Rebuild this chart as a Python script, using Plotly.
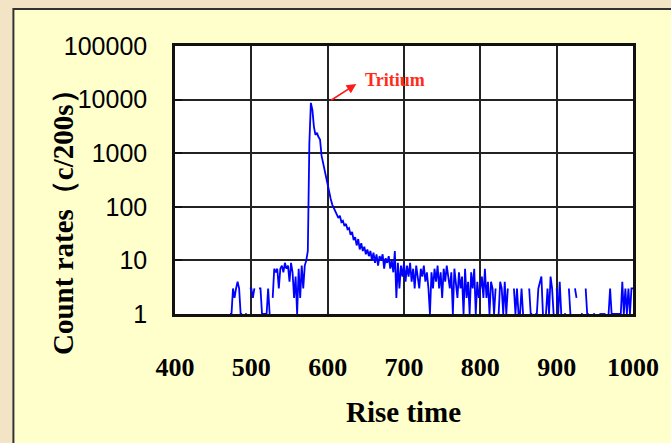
import plotly.graph_objects as go

# Rise-time channels (2-unit bins) and count rates per 200 s; None = no counts
rise_time = list(range(472, 1001, 2))

counts_472_498 = [1, 1, 3, 2, 3, 4, 3, 1, 1, None, 1, 1, None, 3]
counts_500_598 = [
    3, 2, 3, None, None, 3, 3, 1, 1, 1,
    1, 3, 1, None, 2, 7, 6, 7, 3, 7,
    8, 6, 9, 7, 8, 4, 9, 6, 2, 5,
    1, 7, 2, 8, 3, 8, 10, 15, 1500, 8700,
    6400, 3100, 2200, 2400, 2000, 1800, 900, 650, 450, 320,
]
counts_600_698 = [
    250, 175, 140, 110, 95, 80, 72, 62, 68, 52,
    55, 44, 48, 38, 40, 30, 34, 24, 27, 19,
    25, 16, 21, 15, 18, 13, 16, 12, 15, 10,
    14, 9, 13, 8, 12, 10, 13, 7, 11, 9,
    12, 7, 10, 6, 15, 2, 9, 3, 8, 5,
]
counts_700_798 = [
    9, 4, 8, 5, 9, 4, 7, 3, 8, 5,
    3, 7, 5, 8, 4, 6, 3, 1, 6, 3,
    7, 4, 8, 3, 6, 2, 7, 4, 8, 5,
    3, 6, 1, 7, 4, 2, 6, 3, 5, 1,
    7, 2, 4, 1, 6, 3, 7, 1, 4, 2,
]
counts_800_898 = [
    3, 5, 2, 7, 2, 4, 1, 4, 3, 1,
    3, None, 1, 4, 3, 1, 4, 1, 3, None,
    4, None, 3, 1, 3, 1, 1, 3, 1, None,
    1, None, 3, 1, 1, None, 1, 1, 3, 4,
    5, 1, None, 1, 3, 1, 5, 3, 1, None,
]
counts_900_1000 = [
    3, 1, 4, 1, None, 1, 1, None, 3, 1,
    None, None, 3, 2, None, None, 1, 1, None, 3,
    1, 1, None, None, 1, 1, None, None, 1, 1,
    1, 1, 1, None, 1, 3, 1, 1, 1, 1,
    1, 1, 1, 4, 1, 3, 1, 3, 1, 3,
    3,
]
count_rates = (counts_472_498 + counts_500_598 + counts_600_698
               + counts_700_798 + counts_800_898 + counts_900_1000)

x_ticks = [400, 500, 600, 700, 800, 900, 1000]
y_ticks = [1, 10, 100, 1000, 10000, 100000]
y_tick_text = ["1", "10", "100", "1000", "10000", "100000"]

SERIF = "Liberation Serif, Times New Roman, serif"
SANS = "Liberation Sans, Arial, sans-serif"

W, H = 671, 443
L, R, T, B = 175, 34, 46, 129
PW, PH = W - L - R, H - T - B


def px_x(p):
    return (p - L) / PW


def px_y(p):
    return (H - B - p) / PH


fig = go.Figure()
fig.add_trace(go.Scatter(
    x=rise_time, y=count_rates, mode="lines",
    line=dict(color="#0000ff", width=1.8),
    connectgaps=False, showlegend=False,
))

# slide panel behind the chart, then the white plotting area on top of it
fig.add_shape(
    type="rect", xref="paper", yref="paper", layer="below",
    x0=px_x(12), x1=px_x(700), y0=px_y(470), y1=px_y(9),
    fillcolor="#ffffcc", line=dict(color="#333333", width=2),
)
fig.add_shape(
    type="rect", xref="paper", yref="paper", layer="below",
    x0=0, x1=1, y0=0, y1=1,
    fillcolor="#ffffff", line=dict(width=0),
)

fig.update_layout(
    width=W, height=H, autosize=False,
    margin=dict(l=L, r=R, t=T, b=B, pad=0),
    paper_bgcolor="#f4e4c6", plot_bgcolor="#ffffff",
    xaxis=dict(
        range=[400, 1000], tickvals=x_ticks,
        showgrid=True, gridcolor="#222222", gridwidth=1.5,
        showline=True, linecolor="#111111", linewidth=2.5, mirror=True,
        ticks="", zeroline=False, ticklabelstandoff=28,
        tickfont=dict(family=SERIF, size=26, color="#000000", weight="bold"),
    ),
    yaxis=dict(
        type="log", range=[0, 5], tickvals=y_ticks, ticktext=y_tick_text,
        showgrid=True, gridcolor="#222222", gridwidth=1.5,
        showline=True, linecolor="#111111", linewidth=2.5, mirror=True,
        ticks="inside", ticklen=7, tickwidth=2, tickcolor="#111111",
        zeroline=False, ticklabelstandoff=20,
        tickfont=dict(family=SANS, size=25, color="#000000"),
    ),
    annotations=[
        dict(text="Rise time", xref="paper", yref="paper",
             x=px_x(405), y=px_y(412), xanchor="center", yanchor="middle",
             showarrow=False,
             font=dict(family=SERIF, size=29, color="#000000", weight="bold")),
        dict(text="Count rates（c/200s）", xref="paper", yref="paper",
             x=px_x(62), y=px_y(215), xanchor="center", yanchor="middle",
             textangle=-90, showarrow=False,
             font=dict(family=SERIF, size=29, color="#000000", weight="bold")),
        dict(text="Tritium", xref="x", yref="y", x=688, y=4.37,
             xanchor="center", yanchor="middle", showarrow=False,
             font=dict(family=SERIF, size=18, color="#ff2a1a", weight="bold")),
        dict(text="", xref="x", yref="y", x=637.5, y=4.29,
             axref="x", ayref="y", ax=602.5, ay=3.97,
             showarrow=True, arrowhead=2, arrowsize=1.2, arrowwidth=1.6,
             arrowcolor="#ff1a1a"),
    ],
)

fig.write_html("out.html")
